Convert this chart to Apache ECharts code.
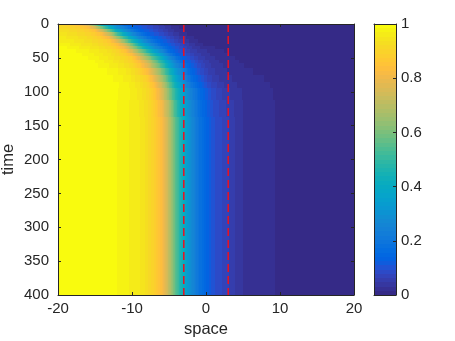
<!DOCTYPE html>
<html>
<head>
<meta charset="utf-8">
<script src="https://cdn.jsdelivr.net/npm/echarts@6/dist/echarts.min.js"></script>
<style>
  html, body { margin: 0; padding: 0; background: #fff; }
  #chart { width: 455px; height: 341px; }
</style>
</head>
<body>
<div id="chart"></div>
<script>
const space = [-20, -19, -18, -17, -16, -15, -14, -13, -12, -11, -10, -9, -8, -7, -6, -5, -4, -3, -2, -1,
  0, 1, 2, 3, 4, 5, 6, 7, 8, 9, 10, 11, 12, 13, 14, 15, 16, 17, 18, 19, 20]
const times = [0, 5, 10, 15, 20, 25, 30, 35, 40, 45, 50, 55, 60, 70, 80, 90, 100, 125, 150, 400]

// u(space) at each time
const u0 = [.91, .89, .87, .83, .76, .62, .43, .32, .24, .15, .125, .10, .08, .06, .035, .018, .008, .003, .001, 0,
  0, 0, 0, 0, 0, 0, 0, 0, 0, 0, 0, 0, 0, 0, 0, 0, 0, 0, 0, 0, 0]
const u5 = [.925, .91, .895, .875, .84, .75, .59, .42, .30, .22, .15, .12, .095, .075, .055, .035, .019, .009, .004, .001,
  0, 0, 0, 0, 0, 0, 0, 0, 0, 0, 0, 0, 0, 0, 0, 0, 0, 0, 0, 0, 0]
const u10 = [.94, .93, .915, .90, .88, .845, .74, .57, .40, .29, .21, .145, .115, .09, .066, .045, .027, .014, .006, .002,
  .001, 0, 0, 0, 0, 0, 0, 0, 0, 0, 0, 0, 0, 0, 0, 0, 0, 0, 0, 0, 0]
const u15 = [.95, .94, .93, .915, .90, .875, .83, .71, .54, .39, .28, .20, .14, .11, .085, .058, .037, .021, .01, .004,
  .001, 0, 0, 0, 0, 0, 0, 0, 0, 0, 0, 0, 0, 0, 0, 0, 0, 0, 0, 0, 0]
const u20 = [.96, .955, .945, .935, .92, .90, .87, .80, .66, .50, .37, .27, .19, .14, .11, .08, .055, .035, .019, .009,
  .004, .001, 0, 0, 0, 0, 0, 0, 0, 0, 0, 0, 0, 0, 0, 0, 0, 0, 0, 0, 0]
const u25 = [.97, .965, .955, .945, .93, .915, .895, .86, .77, .62, .47, .35, .25, .175, .13, .10, .07, .045, .027, .014,
  .006, .002, .001, 0, 0, 0, 0, 0, 0, 0, 0, 0, 0, 0, 0, 0, 0, 0, 0, 0, 0]
const u30 = [.985, .975, .965, .955, .945, .93, .91, .885, .835, .74, .59, .44, .32, .23, .15, .12, .09, .063, .04, .023,
  .011, .005, .002, .001, 0, 0, 0, 0, 0, 0, 0, 0, 0, 0, 0, 0, 0, 0, 0, 0, 0]
const u35 = [.99, .986, .978, .968, .957, .945, .93, .905, .87, .80, .67, .53, .39, .28, .20, .14, .105, .072, .048, .032,
  .024, .017, .011, .006, .003, .001, 0, 0, 0, 0, 0, 0, 0, 0, 0, 0, 0, 0, 0, 0, 0]
const u40 = [.995, .99, .987, .98, .97, .96, .948, .93, .90, .855, .76, .63, .49, .36, .26, .165, .12, .085, .06, .043,
  .032, .024, .018, .013, .008, .004, .002, .001, 0, 0, 0, 0, 0, 0, 0, 0, 0, 0, 0, 0, 0]
const u45 = [.995, .993, .99, .986, .978, .968, .955, .94, .915, .885, .83, .72, .58, .45, .33, .22, .14, .105, .072, .05,
  .037, .028, .021, .016, .011, .007, .004, .002, .001, 0, 0, 0, 0, 0, 0, 0, 0, 0, 0, 0, 0]
const u50 = [1, .995, .993, .99, .985, .975, .963, .95, .93, .905, .875, .79, .66, .53, .40, .28, .185, .125, .09, .06,
  .044, .033, .025, .019, .015, .01, .006, .003, .002, .001, 0, 0, 0, 0, 0, 0, 0, 0, 0, 0, 0]
const u55 = [1, 1, .995, .993, .99, .984, .972, .96, .945, .92, .89, .84, .74, .61, .47, .34, .23, .15, .11, .075,
  .052, .038, .029, .023, .018, .013, .008, .005, .003, .001, 0, 0, 0, 0, 0, 0, 0, 0, 0, 0, 0]
const u60 = [1, 1, 1, .995, .992, .988, .98, .968, .955, .935, .91, .865, .78, .66, .52, .38, .27, .18, .125, .085,
  .058, .043, .033, .026, .02, .016, .011, .007, .004, .002, .001, 0, 0, 0, 0, 0, 0, 0, 0, 0, 0]
const u70 = [1, 1, 1, 1, .995, .992, .988, .982, .97, .955, .935, .90, .84, .74, .60, .46, .33, .22, .145, .10,
  .068, .05, .038, .03, .025, .02, .017, .013, .008, .005, .003, .001, 0, 0, 0, 0, 0, 0, 0, 0, 0]
const u80 = [1, 1, 1, 1, 1, .995, .992, .988, .98, .965, .95, .925, .885, .80, .67, .52, .38, .26, .17, .12,
  .08, .058, .043, .034, .028, .024, .021, .018, .015, .01, .005, .002, .001, 0, 0, 0, 0, 0, 0, 0, 0]
const u90 = [1, 1, 1, 1, 1, 1, .995, .99, .986, .978, .962, .94, .905, .84, .73, .57, .42, .30, .20, .14,
  .10, .07, .053, .04, .032, .027, .024, .021, .018, .014, .008, .004, .002, .001, 0, 0, 0, 0, 0, 0, 0]
const u100 = [1, 1, 1, 1, 1, 1, .995, .99, .986, .977, .965, .948, .92, .87, .77, .62, .47, .34, .24, .165,
  .12, .085, .064, .05, .038, .03, .027, .024, .02, .016, .01, .005, .002, .001, 0, 0, 0, 0, 0, 0, 0]
const u125 = [1, 1, 1, 1, 1, 1, .995, .99, .985, .975, .965, .953, .93, .885, .81, .68, .51, .37, .26, .18,
  .13, .095, .072, .058, .043, .031, .028, .025, .021, .017, .011, .006, .003, .001, 0, 0, 0, 0, 0, 0, 0]
const u150 = [1, 1, 1, 1, 1, 1, .995, .99, .985, .975, .965, .955, .93, .89, .83, .71, .55, .40, .28, .19,
  .14, .10, .08, .065, .045, .031, .028, .025, .021, .017, .011, .006, .003, .001, 0, 0, 0, 0, 0, 0, 0]
const u400 = [1, 1, 1, 1, 1, 1, .995, .99, .985, .975, .965, .955, .93, .89, .83, .71, .55, .40, .28, .19,
  .14, .10, .08, .065, .045, .031, .028, .025, .021, .017, .011, .006, .003, .001, 0, 0, 0, 0, 0, 0, 0]
const rows = [u0, u5, u10, u15, u20, u25, u30, u35, u40, u45, u50, u55, u60, u70, u80, u90, u100, u125, u150, u400]

// dashed vertical markers
const markers = [-3, 3]

// matlab parula, 64 levels
const parula = [
  [0.2081, 0.1663, 0.5292], [0.2116, 0.1898, 0.5777], [0.2123, 0.2138, 0.6270], [0.2081, 0.2386, 0.6771],
  [0.1959, 0.2645, 0.7279], [0.1707, 0.2919, 0.7792], [0.1253, 0.3242, 0.8303], [0.0591, 0.3598, 0.8683],
  [0.0117, 0.3875, 0.8820], [0.0060, 0.4086, 0.8828], [0.0165, 0.4266, 0.8786], [0.0329, 0.4430, 0.8720],
  [0.0498, 0.4586, 0.8641], [0.0629, 0.4737, 0.8554], [0.0723, 0.4887, 0.8467], [0.0779, 0.5040, 0.8384],
  [0.0793, 0.5200, 0.8312], [0.0749, 0.5375, 0.8263], [0.0641, 0.5570, 0.8240], [0.0488, 0.5772, 0.8228],
  [0.0343, 0.5966, 0.8199], [0.0265, 0.6137, 0.8135], [0.0239, 0.6287, 0.8038], [0.0231, 0.6418, 0.7913],
  [0.0228, 0.6535, 0.7768], [0.0267, 0.6642, 0.7607], [0.0384, 0.6743, 0.7436], [0.0590, 0.6838, 0.7254],
  [0.0843, 0.6928, 0.7062], [0.1133, 0.7015, 0.6859], [0.1453, 0.7098, 0.6646], [0.1801, 0.7177, 0.6424],
  [0.2178, 0.7250, 0.6193], [0.2586, 0.7317, 0.5954], [0.3022, 0.7376, 0.5712], [0.3482, 0.7424, 0.5473],
  [0.3953, 0.7459, 0.5244], [0.4420, 0.7481, 0.5033], [0.4871, 0.7491, 0.4840], [0.5300, 0.7491, 0.4661],
  [0.5709, 0.7485, 0.4494], [0.6099, 0.7473, 0.4337], [0.6473, 0.7456, 0.4188], [0.6834, 0.7435, 0.4044],
  [0.7184, 0.7411, 0.3905], [0.7525, 0.7384, 0.3768], [0.7858, 0.7356, 0.3633], [0.8185, 0.7327, 0.3498],
  [0.8507, 0.7299, 0.3360], [0.8824, 0.7274, 0.3217], [0.9139, 0.7258, 0.3063], [0.9450, 0.7261, 0.2886],
  [0.9739, 0.7314, 0.2666], [0.9938, 0.7455, 0.2403], [0.9990, 0.7653, 0.2164], [0.9955, 0.7861, 0.1967],
  [0.9880, 0.8066, 0.1794], [0.9789, 0.8271, 0.1633], [0.9697, 0.8481, 0.1475], [0.9626, 0.8705, 0.1309],
  [0.9589, 0.8949, 0.1132], [0.9598, 0.9218, 0.0948], [0.9661, 0.9514, 0.0755], [0.9763, 0.9831, 0.0538]
].map(c => 'rgb(' + c.map(v => Math.round(v * 255)).join(',') + ')')

function level(v) {
  return Math.max(0, Math.min(63, Math.floor(v * 64)))
}

// gradient stops with hard edges at each colormap level, like a 64-colour image
function bandStops(v0, v1) {
  const k0 = level(v0)
  const k1 = level(v1)
  const stops = [{ offset: 0, color: parula[k0] }]
  if (k0 !== k1) {
    const dir = k1 > k0 ? 1 : -1
    for (let k = k0; k !== k1; k += dir) {
      const edge = (dir > 0 ? k + 1 : k) / 64
      const f = Math.min(1, Math.max(0, (edge - v0) / (v1 - v0)))
      stops.push({ offset: f, color: parula[k] })
      stops.push({ offset: f, color: parula[k + dir] })
    }
  }
  stops.push({ offset: 1, color: parula[k1] })
  return stops
}

const cells = []
rows.forEach((row, i) => {
  if (row.length !== space.length) throw new Error('row ' + times[i] + ' has ' + row.length + ' values')
  const top = i === 0 ? times[0] : (times[i - 1] + times[i]) / 2
  const bottom = i === rows.length - 1 ? times[i] : (times[i] + times[i + 1]) / 2
  for (let j = 0; j < space.length - 1; j++) {
    cells.push([space[j], space[j + 1], top, bottom, row[j], row[j + 1]])
  }
})

function renderCell(params, api) {
  const a = api.coord([api.value(0), api.value(2)])
  const b = api.coord([api.value(1), api.value(3)])
  const x0 = Math.round(Math.min(a[0], b[0]))
  const x1 = Math.round(Math.max(a[0], b[0]))
  const y0 = Math.round(Math.min(a[1], b[1]))
  const y1 = Math.round(Math.max(a[1], b[1]))
  return {
    type: 'rect',
    shape: { x: x0, y: y0, width: x1 - x0, height: y1 - y0 },
    style: { fill: new echarts.graphic.LinearGradient(0, 0, 1, 0, bandStops(api.value(4), api.value(5))) },
  }
}

function renderColorbar(params, api) {
  const a = api.coord([0, 0])
  const b = api.coord([1, 1])
  return {
    type: 'rect',
    shape: { x: a[0], y: b[1], width: b[0] - a[0], height: a[1] - b[1] },
    style: { fill: new echarts.graphic.LinearGradient(0, 1, 0, 0, bandStops(0, 1)) },
  }
}

const ink = '#262626'
const font = 'Liberation Sans'
const line = { onZero: false, lineStyle: { color: ink, width: 1 } }
const tick = { inside: true, length: 3, lineStyle: { color: ink } }
const label = { fontSize: 15, color: ink, fontFamily: font }
const plain = { type: 'value', axisLine: line, axisTick: { show: false }, axisLabel: { show: false }, splitLine: { show: false }, z: 10 }

const chart = echarts.init(document.getElementById('chart'))
chart.setOption({
  animation: false,
  backgroundColor: '#fff',
  grid: [
    { left: 58, top: 24, width: 296, height: 271, containLabel: false, outerBoundsMode: 'none' },
    { left: 374, top: 24, width: 22, height: 271, containLabel: false, outerBoundsMode: 'none' },
  ],
  xAxis: [
    {
      gridIndex: 0, type: 'value', min: -20, max: 20, interval: 10, position: 'bottom',
      name: 'space', nameLocation: 'middle', nameGap: 26, nameMoveOverlap: false,
      nameTextStyle: { fontSize: 16.5, color: ink, fontFamily: font },
      axisLine: line, axisTick: tick, axisLabel: { ...label, margin: 6 }, splitLine: { show: false }, z: 10,
    },
    {
      gridIndex: 0, type: 'value', min: -20, max: 20, interval: 10, position: 'top',
      axisLine: line, axisTick: tick, axisLabel: { show: false }, splitLine: { show: false }, z: 10,
    },
    { ...plain, gridIndex: 1, min: 0, max: 1, position: 'bottom' },
    { ...plain, gridIndex: 1, min: 0, max: 1, position: 'top' },
  ],
  yAxis: [
    {
      gridIndex: 0, type: 'value', min: 0, max: 400, interval: 50, inverse: true, position: 'left',
      name: 'time', nameLocation: 'middle', nameGap: 41, nameRotate: 90, nameMoveOverlap: false,
      nameTextStyle: { fontSize: 16.5, color: ink, fontFamily: font },
      axisLine: line, axisTick: tick, axisLabel: { ...label, margin: 9 }, splitLine: { show: false }, z: 10,
    },
    {
      gridIndex: 0, type: 'value', min: 0, max: 400, interval: 50, inverse: true, position: 'right',
      axisLine: line, axisTick: tick, axisLabel: { show: false }, splitLine: { show: false }, z: 10,
    },
    {
      gridIndex: 1, type: 'value', min: 0, max: 1, interval: 0.2, position: 'right',
      axisLine: line, axisTick: tick, axisLabel: { ...label, margin: 5 }, splitLine: { show: false }, z: 10,
    },
    { ...plain, gridIndex: 1, min: 0, max: 1, position: 'left' },
  ],
  series: [
    {
      type: 'custom', xAxisIndex: 0, yAxisIndex: 0, renderItem: renderCell,
      encode: { x: [0, 1], y: [2, 3] }, data: cells, silent: true,
    },
    {
      type: 'custom', xAxisIndex: 2, yAxisIndex: 2, renderItem: renderColorbar,
      encode: { x: 0, y: 1 }, data: [[0, 1]], silent: true,
    },
    ...markers.map(v => ({
      type: 'line', xAxisIndex: 0, yAxisIndex: 0, data: [[v, 0], [v, 400]],
      symbol: 'none', silent: true, z: 5,
      lineStyle: { color: '#ee1020', width: 1.5, type: [8, 4] },
    })),
  ],
})
</script>
</body>
</html>
